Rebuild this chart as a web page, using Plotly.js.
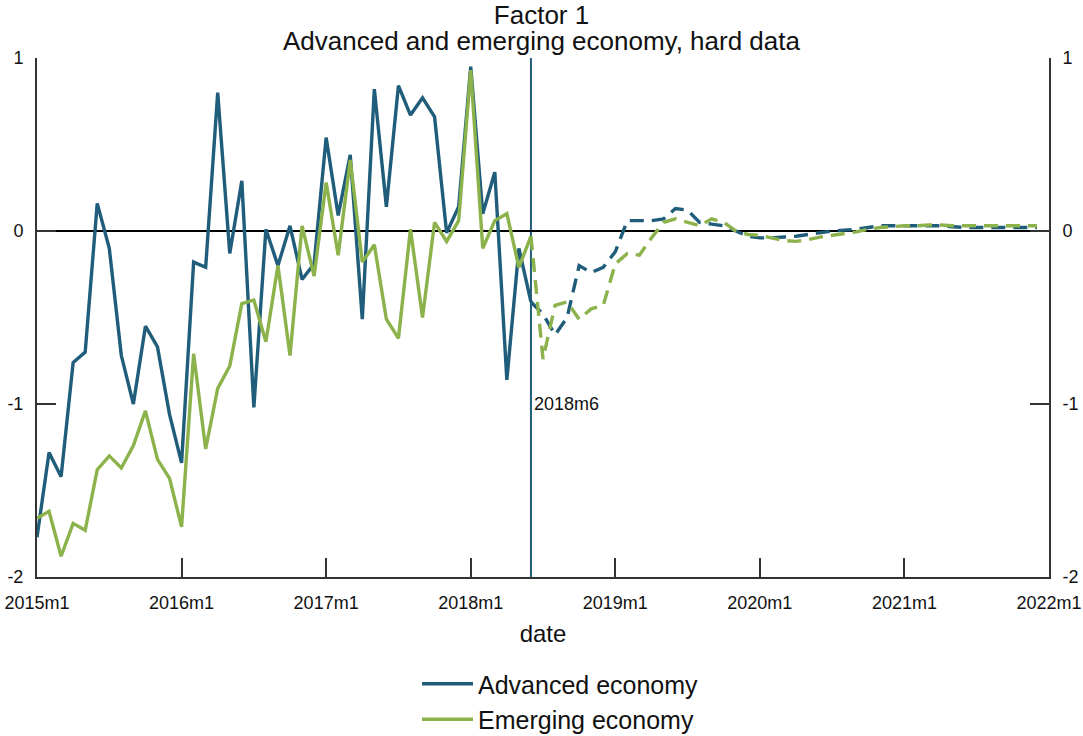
<!DOCTYPE html>
<html>
<head>
<meta charset="utf-8">
<script src="https://cdn.plot.ly/plotly-3.0.1.min.js"></script>
<style>
  html, body { margin: 0; padding: 0; background: #ffffff; }
  #chart { width: 1083px; height: 736px; }
</style>
</head>
<body>
<div id="chart"></div>
<script>
// Monthly factor estimates, 2015m1 onward (month 0 = 2015m1).
// Observed data runs through 2018m6; the projection continues from there.
const advancedActual = [
  -1.77, -1.28, -1.42, -0.76, -0.70, 0.16, -0.10, -0.72, -1.00, -0.55, -0.67, -1.06,
  -1.34, -0.18, -0.21, 0.80, -0.13, 0.29, -1.02, 0.01, -0.20, 0.03, -0.28, -0.19,
  0.54, 0.09, 0.44, -0.51, 0.82, 0.14, 0.84, 0.67, 0.77, 0.66, -0.01, 0.14,
  0.95, 0.10, 0.34, -0.86, -0.10, -0.41
];
const advancedForecast = [
  -0.48, -0.60, -0.50, -0.20, -0.24, -0.21,
  -0.12, 0.06, 0.06, 0.06, 0.07, 0.13, 0.12, 0.05, 0.04, 0.03, 0.00, -0.03,
  -0.04, -0.04, -0.035, -0.03, -0.02, -0.01, 0.00, 0.005, 0.01, 0.02, 0.03, 0.03,
  0.03, 0.03, 0.03, 0.03, 0.025, 0.02, 0.02, 0.02, 0.02, 0.02, 0.02, 0.02
];
const emergingActual = [
  -1.66, -1.62, -1.88, -1.69, -1.73, -1.38, -1.30, -1.37, -1.24, -1.04, -1.32, -1.43,
  -1.71, -0.71, -1.26, -0.91, -0.78, -0.42, -0.40, -0.64, -0.20, -0.72, 0.03, -0.26,
  0.28, -0.14, 0.41, -0.18, -0.08, -0.51, -0.62, 0.01, -0.50, 0.05, -0.06, 0.06,
  0.93, -0.10, 0.06, 0.10, -0.21, -0.03
];
const emergingForecast = [
  -0.74, -0.43, -0.41, -0.51, -0.45, -0.43,
  -0.19, -0.13, -0.14, -0.04, 0.05, 0.07, 0.05, 0.03, 0.07, 0.05, 0.00, -0.02,
  -0.025, -0.04, -0.055, -0.06, -0.05, -0.035, -0.025, -0.015, -0.005, 0.01, 0.02, 0.025,
  0.03, 0.03, 0.035, 0.035, 0.03, 0.03, 0.03, 0.03, 0.03, 0.03, 0.03, 0.03
];

const tickMonths = [0, 12, 24, 36, 48, 60, 72, 84];
const tickLabels = ['2015m1', '2016m1', '2017m1', '2018m1', '2019m1', '2020m1', '2021m1', '2022m1'];
const yTicks = [-2, -1, 0, 1];
const yTickLabels = ['-2', '-1', '0', '1'];
const cutoffMonth = 41;            // 2018m6
const cutoffLabel = '2018m6';

const BLUE = '#1f5d7b';
const GREEN = '#8cb24b';
const AXIS = '#333333';

// Month indices for observed values, and for the projection (which starts at the last observation).
const idx = arr => arr.map((_, i) => i);
const projX = (actual, fc) => [actual.length - 1].concat(fc.map((_, i) => actual.length + i));
const projY = (actual, fc) => [actual[actual.length - 1]].concat(fc);

const traces = [
  {
    x: idx(advancedActual), y: advancedActual, type: 'scatter', mode: 'lines',
    name: 'Advanced economy', line: { color: BLUE, width: 3.4 }, yaxis: 'y'
  },
  {
    x: projX(advancedActual, advancedForecast), y: projY(advancedActual, advancedForecast),
    type: 'scatter', mode: 'lines', showlegend: false, name: 'Advanced economy (projection)',
    line: { color: BLUE, width: 3.4, dash: '14px,8px' }, yaxis: 'y'
  },
  {
    x: idx(emergingActual), y: emergingActual, type: 'scatter', mode: 'lines',
    name: 'Emerging economy', line: { color: GREEN, width: 3.4 }, yaxis: 'y2'
  },
  {
    x: projX(emergingActual, emergingForecast), y: projY(emergingActual, emergingForecast),
    type: 'scatter', mode: 'lines', showlegend: false, name: 'Emerging economy (projection)',
    line: { color: GREEN, width: 3.4, dash: '14px,8px' }, yaxis: 'y2'
  }
];

const yCommon = {
  range: [-2, 1],
  tickmode: 'array', tickvals: yTicks, ticktext: yTickLabels,
  ticks: 'inside', ticklen: 19, tickwidth: 2, tickcolor: AXIS,
  showline: true, linecolor: AXIS, linewidth: 2,
  showgrid: false, fixedrange: true, automargin: false,
  tickfont: { size: 18, color: '#111' },
  ticklabelstandoff: 8
};

const layout = {
  width: 1083, height: 736,
  margin: { l: 37, r: 34, t: 58, b: 159, autoexpand: false },
  paper_bgcolor: '#ffffff', plot_bgcolor: '#ffffff',
  font: { family: '"Liberation Sans", Arial, sans-serif', color: '#111' },
  title: {
    text: 'Factor 1',
    font: { size: 26, color: '#111' },
    x: 0.5, xref: 'container', xanchor: 'center',
    y: 1 - 14.5 / 736, yref: 'container', yanchor: 'middle'
  },
  xaxis: {
    range: [0, 84],
    tickmode: 'array', tickvals: tickMonths, ticktext: tickLabels,
    ticks: 'inside', ticklen: 19, tickwidth: 2, tickcolor: AXIS,
    showline: true, linecolor: AXIS, linewidth: 2,
    showgrid: false, zeroline: false, automargin: false,
    tickfont: { size: 18, color: '#111' },
    ticklabelstandoff: 8,
    title: { text: 'date', font: { size: 24, color: '#111' }, standoff: 14 }
  },
  yaxis: Object.assign({}, yCommon, {
    side: 'left',
    zeroline: true, zerolinecolor: '#000000', zerolinewidth: 2.4
  }),
  yaxis2: Object.assign({}, yCommon, {
    side: 'right', overlaying: 'y', zeroline: false
  }),
  shapes: [{
    type: 'line', xref: 'x', yref: 'paper',
    x0: cutoffMonth, x1: cutoffMonth, y0: 0, y1: 1,
    line: { color: BLUE, width: 2 }, layer: 'between'
  }],
  annotations: [
    {
      text: 'Advanced and emerging economy, hard data',
      xref: 'paper', yref: 'paper', x: (541.5 - 37) / 1012, y: (577 - 40.5) / 519,
      xanchor: 'center', yanchor: 'middle', showarrow: false,
      font: { size: 26, color: '#111' }
    },
    {
      text: cutoffLabel,
      xref: 'x', yref: 'y', x: cutoffMonth, y: -1,
      xanchor: 'left', yanchor: 'middle', xshift: 1, showarrow: false,
      font: { size: 18, color: '#111' }
    }
  ],
  showlegend: true,
  legend: {
    orientation: 'v',
    x: 417 / 1083, xref: 'container', xanchor: 'left',
    y: 1 - 661 / 736, yref: 'container', yanchor: 'top',
    itemwidth: 51,
    font: { size: 25, color: '#111' },
    bgcolor: 'rgba(0,0,0,0)', borderwidth: 0,
    traceorder: 'normal'
  }
};

Plotly.newPlot('chart', traces, layout, { staticPlot: true, displayModeBar: false });
</script>
</body>
</html>
